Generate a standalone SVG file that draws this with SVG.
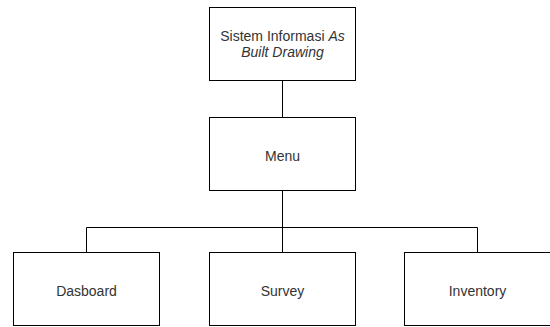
<svg xmlns="http://www.w3.org/2000/svg" width="550" height="327" viewBox="0 0 550 327">
<style>
.box{fill:#fff;stroke:#000;stroke-width:1}
.lbl{font-family:"Liberation Sans",Arial,sans-serif;font-size:14px;fill:#333;text-anchor:middle}
.edge{fill:none;stroke:#000;stroke-width:1}
</style>
<rect width="550" height="327" fill="#fff"/>
<g id="connectors">
<path class="edge" d="M282.5 80.5V117.5"/>
<path class="edge" d="M282.5 190.5V252.5"/>
<path class="edge" d="M86.5 252.5V227.5H477.5V252.5"/>
</g>
<g id="node-sistem">
<rect class="box" x="209.5" y="7.5" width="146" height="73"/>
<text class="lbl" x="282.5" y="40.5">Sistem Informasi <tspan font-style="italic">As</tspan></text>
<text class="lbl" x="282.5" y="57" font-style="italic">Built Drawing</text>
</g>
<g id="node-menu">
<rect class="box" x="209.5" y="117.5" width="146" height="73"/>
<text class="lbl" x="282.5" y="160.5">Menu</text>
</g>
<g id="node-dasboard">
<rect class="box" x="13.5" y="252.5" width="146" height="73"/>
<text class="lbl" x="86.5" y="296">Dasboard</text>
</g>
<g id="node-survey">
<rect class="box" x="209.5" y="252.5" width="146" height="73"/>
<text class="lbl" x="282.5" y="296">Survey</text>
</g>
<g id="node-inventory">
<rect class="box" x="404.5" y="252.5" width="146" height="73"/>
<text class="lbl" x="477.5" y="296">Inventory</text>
</g>
</svg>
